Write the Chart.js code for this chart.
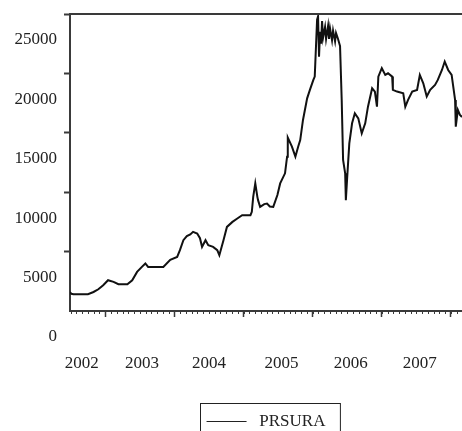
<!DOCTYPE html>
<html>
<head>
<meta charset="utf-8">
<script src="https://cdn.jsdelivr.net/npm/chart.js@4.4.1/dist/chart.umd.min.js"></script>
<style>
  html, body { margin: 0; padding: 0; background: #fff; }
  #wrap { width: 462px; height: 431px; }
</style>
</head>
<body>
<div id="wrap"><canvas id="chart" width="462" height="431"></canvas></div>
<script>
// --- data (dates as decimal years) ---
const seriesName = 'PRSURA';
const dates = [
  2002.49, 2002.51, 2002.54, 2002.75, 2002.83, 2002.90, 2002.97, 2003.04, 2003.12, 2003.19,
  2003.32, 2003.39, 2003.46, 2003.53, 2003.58, 2003.62, 2003.84, 2003.94, 2004.04, 2004.08,
  2004.13, 2004.18, 2004.23, 2004.27, 2004.33, 2004.37, 2004.40, 2004.45, 2004.49, 2004.56,
  2004.62, 2004.65, 2004.71, 2004.76, 2004.84, 2004.91, 2004.98, 2005.10, 2005.12, 2005.14,
  2005.17, 2005.20, 2005.21, 2005.24, 2005.30, 2005.34, 2005.38, 2005.43, 2005.49, 2005.53,
  2005.60, 2005.63, 2005.64, 2005.70, 2005.75, 2005.79, 2005.82, 2005.86, 2005.92, 2005.96,
  2006.01, 2006.03, 2006.064, 2006.078, 2006.092, 2006.107, 2006.121, 2006.136, 2006.150, 2006.179,
  2006.194, 2006.223, 2006.237, 2006.251, 2006.280, 2006.295, 2006.324, 2006.338, 2006.367, 2006.396,
  2006.42, 2006.44, 2006.47, 2006.48, 2006.50, 2006.53, 2006.57, 2006.61, 2006.66, 2006.71,
  2006.76, 2006.80, 2006.86, 2006.90, 2006.93, 2006.95, 2007.00, 2007.05, 2007.09, 2007.15,
  2007.16, 2007.22, 2007.31, 2007.34, 2007.38, 2007.44, 2007.51, 2007.55, 2007.60, 2007.65,
  2007.70, 2007.77, 2007.81, 2007.87, 2007.91, 2007.96, 2008.01, 2008.06, 2008.07, 2008.10,
  2008.13, 2008.16
];
const prices = [
  1600, 1450, 1410, 1410, 1600, 1830, 2170, 2590, 2450, 2250,
  2250, 2590, 3290, 3710, 4000, 3710, 3710, 4300, 4550, 5120,
  5960, 6300, 6450, 6660, 6520, 6130, 5400, 5960, 5540, 5400,
  5120, 4700, 5960, 7080, 7500, 7790, 8070, 8070, 8350, 9610,
  10740, 9610, 9330, 8770, 9000, 9050, 8800, 8770, 9760, 10740,
  11590, 12990, 14600, 13830, 12990, 13830, 14390, 16080, 17900, 18610,
  19450, 19730, 24520, 24800, 21400, 23500, 22500, 24400, 23000, 23900,
  22900, 24000, 22900, 23800, 22800, 23600, 22700, 23400, 22900, 22300,
  17770, 12710, 11590, 9330, 11310, 14110, 15800, 16640, 16220, 14950,
  15800, 17200, 18750, 18470, 17200, 19730, 20440, 19870, 20010, 19730,
  18610, 18470, 18330, 17200, 17770, 18470, 18610, 19870, 19170, 18050,
  18610, 19030, 19450, 20290, 21000, 20290, 19870, 17770, 15520, 16920,
  16500, 16330
];

// axis ticks
const yTicks = [0, 5000, 10000, 15000, 20000, 25000];
const yearTicks = [2003, 2004, 2005, 2006, 2007, 2008];
const yearLabels = ['2002', '2003', '2004', '2005', '2006', '2007'];
const yearLabelPos = [2002.66, 2003.53, 2004.50, 2005.55, 2006.55, 2007.55];

const X_MIN = 2002.49;
const X_MAX = 2008.16;
const AXIS_COLOR = '#3a3a3a';
const TEXT_COLOR = '#222';
const tickFont = { family: 'Liberation Serif', size: 17 };

// top frame line, monthly minor ticks and the box round the legend
const framePlugin = {
  id: 'frame',
  afterDraw(chart) {
    const { ctx, chartArea: a, scales: { x } } = chart;
    ctx.save();
    ctx.strokeStyle = AXIS_COLOR;

    ctx.lineWidth = 2;
    ctx.beginPath();
    ctx.moveTo(a.left, a.top);
    ctx.lineTo(a.right, a.top);
    ctx.stroke();

    ctx.lineWidth = 1;
    ctx.beginPath();
    for (let yr = 2002; yr <= 2008; yr++) {
      for (let m = 0; m < 12; m++) {
        const v = yr + m / 12;
        if (v < x.min || v > x.max) continue;
        const px = Math.round(x.getPixelForValue(v)) + 0.5;
        ctx.moveTo(px, a.bottom);
        ctx.lineTo(px, a.bottom + 3);
      }
    }
    ctx.stroke();

    const hb = chart.legend && chart.legend.legendHitBoxes[0];
    if (hb) {
      const cy = hb.top + hb.height / 2;
      ctx.lineWidth = 1;
      ctx.strokeStyle = '#222';
      ctx.strokeRect(Math.round(hb.left - 7) + 0.5, Math.round(cy - 18.5) + 0.5, hb.width + 21, 40);
    }
    ctx.restore();
  }
};

new Chart(document.getElementById('chart'), {
  type: 'line',
  data: {
    datasets: [{
      label: seriesName,
      data: dates.map((d, i) => ({ x: d, y: prices[i] })),
      borderColor: '#111',
      backgroundColor: '#111',
      borderWidth: 2,
      pointRadius: 0,
      tension: 0,
      fill: false
    }]
  },
  options: {
    responsive: false,
    animation: false,
    events: [],
    layout: { padding: { top: 14, right: 0, left: 0, bottom: -9 } },
    plugins: {
      tooltip: { enabled: false },
      legend: {
        position: 'bottom',
        fullSize: false,
        align: 'center',
        labels: {
          boxWidth: 40,
          boxHeight: 1,
          padding: 0,
          color: TEXT_COLOR,
          font: { family: 'Liberation Serif', size: 17 },
          generateLabels: ch => ch.data.datasets.map((ds, i) => ({
            text: ' ' + ds.label,
            fillStyle: '#222',
            strokeStyle: '#222',
            lineWidth: 0,
            hidden: false,
            datasetIndex: i,
            fontColor: TEXT_COLOR
          }))
        }
      }
    },
    scales: {
      x: {
        type: 'linear',
        min: X_MIN,
        max: X_MAX,
        afterFit(s) {
          s.height = 102;
          s.paddingLeft = 0;
          s.paddingRight = 0;
        },
        afterBuildTicks(s) {
          s.ticks = yearTicks.concat(yearLabelPos).sort((a, b) => a - b).map(v => ({ value: v }));
        },
        border: { display: true, color: AXIS_COLOR, width: 2 },
        grid: {
          drawOnChartArea: false,
          tickLength: 6,
          tickWidth: 1.5,
          tickColor: c => (c.tick && yearTicks.includes(c.tick.value)) ? AXIS_COLOR : 'rgba(0,0,0,0)'
        },
        ticks: {
          autoSkip: false,
          maxRotation: 0,
          padding: 36,
          color: TEXT_COLOR,
          font: tickFont,
          callback: v => {
            const i = yearLabelPos.indexOf(v);
            return i >= 0 ? yearLabels[i] : '';
          }
        }
      },
      y: {
        min: 0,
        max: 25000,
        afterFit(s) {
          s.width = 70;
          s.paddingTop = 0;
          s.paddingBottom = 0;
        },
        afterBuildTicks(s) { s.ticks = yTicks.map(v => ({ value: v })); },
        border: { display: true, color: AXIS_COLOR, width: 2 },
        grid: {
          drawOnChartArea: false,
          tickLength: 6,
          tickWidth: 2,
          tickColor: c => (c.tick && c.tick.value === 0) ? 'rgba(0,0,0,0)' : AXIS_COLOR
        },
        ticks: {
          padding: 7,
          labelOffset: 26,
          color: TEXT_COLOR,
          font: tickFont,
          callback: v => String(v)
        }
      }
    }
  },
  plugins: [framePlugin]
});
</script>
</body>
</html>
